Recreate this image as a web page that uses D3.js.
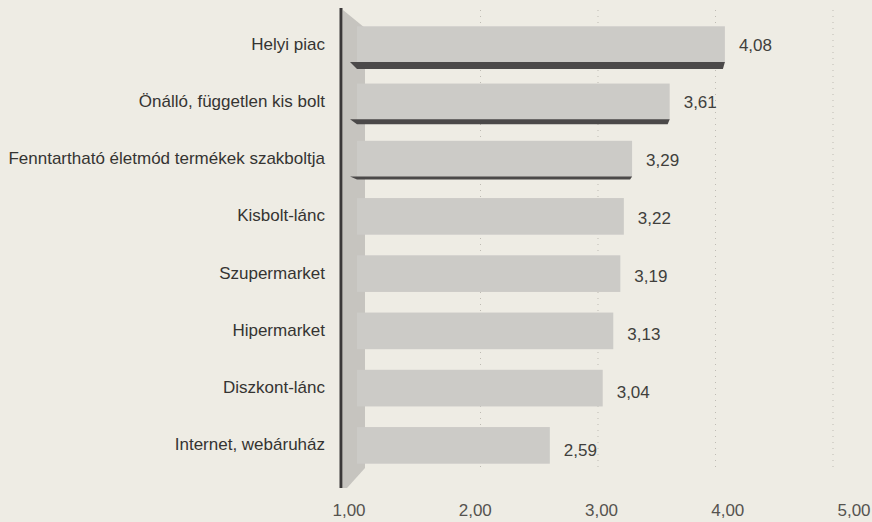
<style>
body { margin: 0; background: #eeece4; }
svg { display: block; }
text { font-family: "Liberation Sans", Arial, sans-serif; }
</style>

<svg id="chart" width="872" height="522"></svg>
<script src="https://cdn.jsdelivr.net/npm/d3@7"></script>
<script>
var categories = ["Helyi piac", "Önálló, független kis bolt", "Fenntartható életmód termékek szakboltja",
  "Kisbolt-lánc", "Szupermarket", "Hipermarket", "Diszkont-lánc", "Internet, webáruház"];
var values = [4.08, 3.61, 3.29, 3.22, 3.19, 3.13, 3.04, 2.59];
var tickValues = [1, 2, 3, 4, 5];
var tickLabels = ["1,00", "2,00", "3,00", "4,00", "5,00"];
// the first three bars carry a dark base edge in the original
var edged = ["Helyi piac", "Önálló, független kis bolt", "Fenntartható életmód termékek szakboltja"];

var svg = d3.select("#chart");

var x = d3.scaleLinear().domain([1, 5]).range([363, 833]);
// the tick labels sit on the front floor, so they spread a bit wider
var xLab = d3.scaleLinear().domain([1, 5]).range([349, 854]);
var y = d3.scaleBand().domain(categories).range([16, 474])
  .paddingInner(0.36).paddingOuter(0.18);

var data = categories.map(function(c, i){ return {cat: c, v: values[i]}; });

svg.append("rect").attr("width", 872).attr("height", 522).attr("fill", "#eeece4");

// dotted grid
svg.append("g").selectAll("line")
  .data(tickValues.slice(1))
  .enter().append("line")
  .attr("x1", function(d){ return x(d); })
  .attr("x2", function(d){ return x(d); })
  .attr("y1", 10).attr("y2", 470)
  .attr("stroke", "#bebbb3")
  .attr("stroke-width", 1)
  .attr("stroke-dasharray", "1,5");

// side wall
var wx0 = 343, wx1 = x(1) + 2;
var yTop = y.range()[0], yBot = y.range()[1];
svg.append("path")
  .attr("d", "M" + wx0 + "," + (yTop - 6) + "L" + wx1 + "," + (yTop + 12) +
    "L" + wx1 + "," + (yBot - 6) + "L" + (wx0 + 4) + "," + (yBot + 14) + "L" + wx0 + "," + (yBot + 14) + "Z")
  .attr("fill", "#c6c4bf");

// bars
svg.append("g").selectAll("rect")
  .data(data)
  .enter().append("rect")
  .attr("x", x(1) - 6)
  .attr("y", function(d){ return y(d.cat); })
  .attr("width", function(d){ return x(d.v) - x(1) + 6; })
  .attr("height", y.bandwidth())
  .attr("fill", "#cccbc7");

// dark base edges
var edgeT = [7, 5, 3];
svg.append("g").selectAll("path")
  .data(data.filter(function(d){ return edged.indexOf(d.cat) >= 0; }))
  .enter().append("path")
  .attr("d", function(d, i){
    var b = y(d.cat) + y.bandwidth() - 1, t = edgeT[i];
    return "M" + (x(1) - 13) + "," + b + "L" + x(d.v) + "," + b +
      "L" + (x(d.v) - 2) + "," + (b + t) + "L" + (x(1) - 6) + "," + (b + t) + "Z";
  })
  .attr("fill", "#4b4949");

// axis line
svg.append("line")
  .attr("x1", 341).attr("x2", 341)
  .attr("y1", 8).attr("y2", 488)
  .attr("stroke", "#3a3838").attr("stroke-width", 3);

// category labels
svg.append("g").selectAll("text")
  .data(data)
  .enter().append("text")
  .attr("x", 325)
  .attr("y", function(d){ return y(d.cat) + y.bandwidth() / 2 - 1; })
  .attr("dy", "0.35em")
  .attr("text-anchor", "end")
  .attr("font-size", 17)
  .attr("fill", "#353432")
  .text(function(d){ return d.cat; });

// value labels
svg.append("g").selectAll("text")
  .data(data)
  .enter().append("text")
  .attr("x", function(d){ return x(d.v) + 14; })
  .attr("y", function(d, i){ return y(d.cat) + y.bandwidth() / 2 + i * 0.6; })
  .attr("dy", "0.35em")
  .attr("font-size", 17)
  .attr("fill", "#403f3c")
  .text(function(d){ return d3.format(".2f")(d.v).replace(".", ","); });

// tick labels
svg.append("g").selectAll("text")
  .data(tickValues)
  .enter().append("text")
  .attr("x", function(d){ return xLab(d); })
  .attr("y", 510)
  .attr("dy", "0.35em")
  .attr("text-anchor", "middle")
  .attr("font-size", 17)
  .attr("fill", "#55534f")
  .text(function(d, i){ return tickLabels[i]; });
</script>
